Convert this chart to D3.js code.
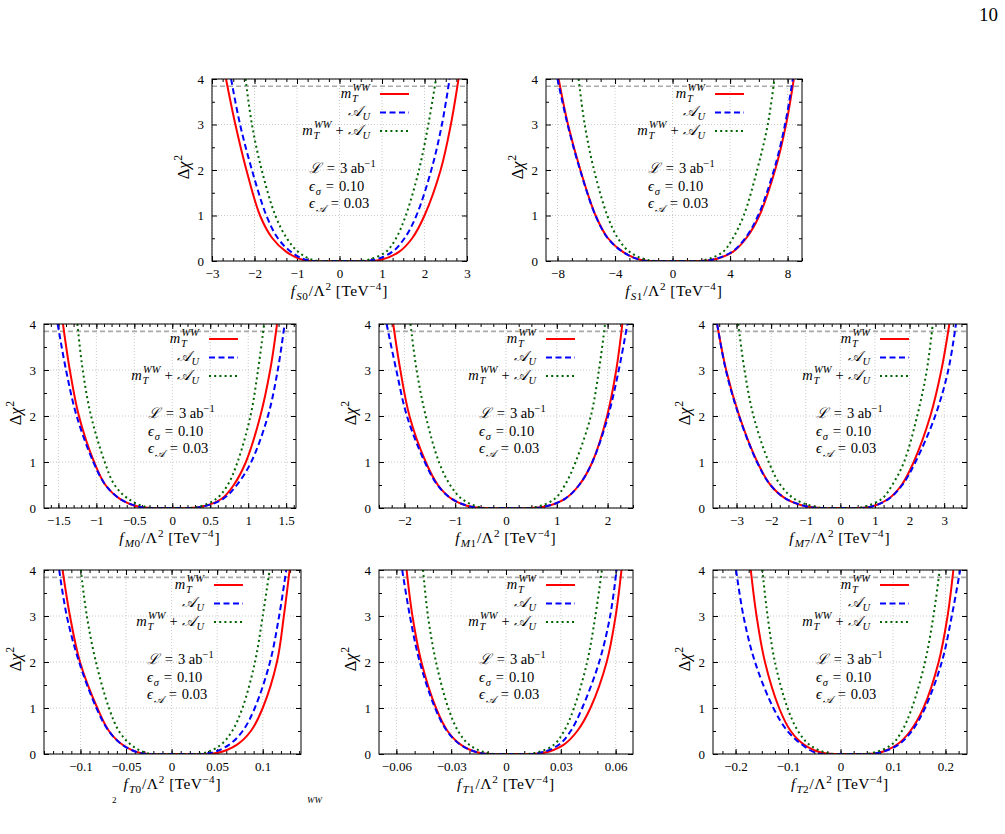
<!DOCTYPE html>
<html>
<head>
<meta charset="utf-8">
<script src="https://cdn.jsdelivr.net/npm/d3@7"></script>
<style>
body { margin: 0; background: #fff; }
svg text { font-family: "Liberation Serif", "DejaVu Serif", serif; fill: #000; white-space: pre; }
</style>
</head>
<body>
<script>

// ---- data: delta chi^2 curves, [coupling, dchi2] ----

var S0_mT = [[-2.67,4],[-2.45,3],[-2.19,2],[-1.87,1],[-1.58,0.5],[-1.25,0.2],[-0.85,0.02],[0.05,0],[0.95,0.02],[1.40,0.2],[1.71,0.5],[2.0,1],[2.38,2],[2.62,3],[2.80,4]];
var S0_AU = [[-2.55,4],[-2.34,3],[-2.06,2],[-1.72,1],[-1.45,0.5],[-1.14,0.2],[-0.77,0.02],[0.01,0],[0.79,0.02],[1.24,0.2],[1.53,0.5],[1.81,1],[2.16,2],[2.41,3],[2.59,4]];
var S0_comb = [[-2.21,4],[-2.06,3],[-1.83,2],[-1.51,1],[-1.24,0.5],[-0.97,0.2],[-0.61,0.02],[0.02,0],[0.64,0.02],[1.09,0.2],[1.33,0.5],[1.56,1],[1.87,2],[2.09,3],[2.27,4]];

var S1_mT = [[-7.92,4],[-7.27,3],[-6.41,2],[-5.35,1],[-4.49,0.5],[-3.45,0.2],[-2.18,0.02],[0.25,0],[2.69,0.02],[4.19,0.2],[5.12,0.5],[6.04,1],[7.13,2],[7.89,3],[8.43,4]];
var S1_AU = [[-8.0,4],[-7.3,3],[-6.43,2],[-5.36,1],[-4.5,0.5],[-3.46,0.2],[-2.2,0.02],[0.2,0],[2.62,0.02],[4.12,0.2],[5.05,0.5],[5.95,1],[7.05,2],[7.82,3],[8.36,4]];
var S1_comb = [[-6.53,4],[-6.11,3],[-5.46,2],[-4.54,1],[-3.80,0.5],[-2.99,0.2],[-1.71,0.02],[0.25,0],[2.22,0.02],[3.50,0.2],[4.19,0.5],[4.95,1],[5.88,2],[6.62,3],[7.08,4]];

var M0_mT = [[-1.44,4],[-1.35,3],[-1.23,2],[-1.03,1],[-0.88,0.5],[-0.69,0.2],[-0.42,0.02],[-0.02,0],[0.37,0.02],[0.65,0.2],[0.81,0.5],[0.97,1],[1.16,2],[1.29,3],[1.38,4]];
var M0_AU = [[-1.51,4],[-1.40,3],[-1.26,2],[-1.04,1],[-0.88,0.5],[-0.69,0.2],[-0.42,0.02],[-0.02,0],[0.37,0.02],[0.67,0.2],[0.85,0.5],[1.04,1],[1.26,2],[1.39,3],[1.48,4]];
var M0_comb = [[-1.25,4],[-1.18,3],[-1.07,2],[-0.89,1],[-0.76,0.5],[-0.58,0.2],[-0.34,0.02],[0,0],[0.33,0.02],[0.58,0.2],[0.73,0.5],[0.86,1],[1.03,2],[1.13,3],[1.21,4]];

var M1_mT = [[-2.22,4],[-2.08,3],[-1.90,2],[-1.58,1],[-1.34,0.5],[-1.07,0.2],[-0.65,0.02],[0.03,0],[0.72,0.02],[1.16,0.2],[1.44,0.5],[1.70,1],[1.99,2],[2.17,3],[2.29,4]];
var M1_AU = [[-2.35,4],[-2.16,3],[-1.95,2],[-1.60,1],[-1.35,0.5],[-1.07,0.2],[-0.65,0.02],[0.03,0],[0.72,0.02],[1.16,0.2],[1.44,0.5],[1.70,1],[2.01,2],[2.22,3],[2.39,4]];
var M1_comb = [[-1.88,4],[-1.76,3],[-1.58,2],[-1.32,1],[-1.10,0.5],[-0.87,0.2],[-0.52,0.02],[0.03,0],[0.59,0.02],[0.96,0.2],[1.16,0.5],[1.37,1],[1.67,2],[1.83,3],[1.95,4]];

var M7_mT = [[-3.56,4],[-3.30,3],[-2.92,2],[-2.40,1],[-2.02,0.5],[-1.57,0.2],[-0.88,0.02],[0,0],[0.84,0.02],[1.39,0.2],[1.77,0.5],[2.12,1],[2.60,2],[2.92,3],[3.15,4]];
var M7_AU = [[-3.56,4],[-3.31,3],[-2.93,2],[-2.41,1],[-2.02,0.5],[-1.57,0.2],[-0.88,0.02],[0,0],[0.84,0.02],[1.40,0.2],[1.79,0.5],[2.17,1],[2.74,2],[3.12,3],[3.34,4]];
var M7_comb = [[-2.95,4],[-2.77,3],[-2.51,2],[-2.07,1],[-1.73,0.5],[-1.33,0.2],[-0.69,0.02],[0,0],[0.65,0.02],[1.20,0.2],[1.50,0.5],[1.84,1],[2.22,2],[2.50,3],[2.67,4]];

var T0_mT = [[-0.1196,4],[-0.1115,3],[-0.1005,2],[-0.0815,1],[-0.0687,0.5],[-0.0538,0.2],[-0.034,0.02],[0.008,0],[0.049,0.02],[0.0715,0.2],[0.0870,0.5],[0.100,1],[0.1156,2],[0.1232,3],[0.1295,4]];
var T0_AU = [[-0.1233,4],[-0.115,3],[-0.1015,2],[-0.0825,1],[-0.069,0.5],[-0.054,0.2],[-0.034,0.02],[0.004,0],[0.042,0.02],[0.063,0.2],[0.0780,0.5],[0.0913,1],[0.108,2],[0.118,3],[0.1258,4]];
var T0_comb = [[-0.0996,4],[-0.093,3],[-0.083,2],[-0.0687,1],[-0.0578,0.5],[-0.0445,0.2],[-0.027,0.02],[0.004,0],[0.035,0.02],[0.054,0.2],[0.0665,0.5],[0.0778,1],[0.0915,2],[0.100,3],[0.1076,4]];

var T1_mT = [[-0.0544,4],[-0.0512,3],[-0.0463,2],[-0.0383,1],[-0.032,0.5],[-0.0246,0.2],[-0.014,0.02],[0.003,0],[0.020,0.02],[0.0315,0.2],[0.039,0.5],[0.0462,1],[0.0551,2],[0.060,3],[0.0632,4]];
var T1_AU = [[-0.0568,4],[-0.0526,3],[-0.0472,2],[-0.0388,1],[-0.0323,0.5],[-0.0249,0.2],[-0.014,0.02],[0.002,0],[0.018,0.02],[0.0289,0.2],[0.0354,0.5],[0.0417,1],[0.051,2],[0.057,3],[0.0605,4]];
var T1_comb = [[-0.0454,4],[-0.0427,3],[-0.0383,2],[-0.0316,1],[-0.0262,0.5],[-0.0201,0.2],[-0.010,0.02],[0.003,0],[0.0156,0.02],[0.0262,0.2],[0.0318,0.5],[0.0372,1],[0.0444,2],[0.0489,3],[0.0525,4]];

var T2_mT = [[-0.171,4],[-0.160,3],[-0.144,2],[-0.117,1],[-0.095,0.5],[-0.069,0.2],[-0.032,0.02],[0.019,0],[0.070,0.02],[0.107,0.2],[0.133,0.5],[0.158,1],[0.187,2],[0.204,3],[0.215,4]];
var T2_AU = [[-0.199,4],[-0.185,3],[-0.163,2],[-0.128,1],[-0.101,0.5],[-0.073,0.2],[-0.045,0.02],[0.012,0],[0.070,0.02],[0.110,0.2],[0.136,0.5],[0.161,1],[0.193,2],[0.212,3],[0.228,4]];
var T2_comb = [[-0.149,4],[-0.139,3],[-0.125,2],[-0.101,1],[-0.081,0.5],[-0.059,0.2],[-0.025,0.02],[0.018,0],[0.060,0.02],[0.097,0.2],[0.117,0.5],[0.136,1],[0.161,2],[0.177,3],[0.189,4]];

// axis ranges and tick labels
var S0_ticks = [-3, -2, -1, 0, 1, 2, 3];
var S1_ticks = [-8, -4, 0, 4, 8];
var M0_ticks = [-1.5, -1, -0.5, 0, 0.5, 1, 1.5];
var M1_ticks = [-2, -1, 0, 1, 2];
var M7_ticks = [-3, -2, -1, 0, 1, 2, 3];
var T0_ticks = [-0.1, -0.05, 0, 0.05, 0.1];
var T1_ticks = [-0.06, -0.03, 0, 0.03, 0.06];
var T2_ticks = [-0.2, -0.1, 0, 0.1, 0.2];
var yTicks = [0, 1, 2, 3, 4];
var chi2Line = 3.84;

// ---- layout ----

var panels = [
    { op: 'S0', left: 212, top: 79, w: 255, h: 182, dom: [-3, 3], ticks: S0_ticks, minor: 4, series: [S0_mT, S0_AU, S0_comb], note: 97 },
    { op: 'S1', left: 546, top: 79, w: 256, h: 182, dom: [-8.8, 9], ticks: S1_ticks, minor: 4, series: [S1_mT, S1_AU, S1_comb], note: 102 },
    { op: 'M0', left: 44, top: 324, w: 252, h: 184, dom: [-1.69, 1.63], ticks: M0_ticks, minor: 5, series: [M0_mT, M0_AU, M0_comb], note: 104 },
    { op: 'M1', left: 379, top: 324, w: 254, h: 184, dom: [-2.5, 2.5], ticks: M1_ticks, minor: 4, series: [M1_mT, M1_AU, M1_comb], note: 100 },
    { op: 'M7', left: 713, top: 324, w: 254, h: 184, dom: [-3.68, 3.66], ticks: M7_ticks, minor: 4, series: [M7_mT, M7_AU, M7_comb], note: 103 },
    { op: 'T0', left: 44, top: 570, w: 257, h: 184, dom: [-0.14, 0.142], ticks: T0_ticks, minor: 5, series: [T0_mT, T0_AU, T0_comb], note: 103 },
    { op: 'T1', left: 379, top: 570, w: 254, h: 184, dom: [-0.0695, 0.0695], ticks: T1_ticks, minor: 3, series: [T1_mT, T1_AU, T1_comb], note: 100 },
    { op: 'T2', left: 713, top: 570, w: 254, h: 184, dom: [-0.243, 0.241], ticks: T2_ticks, minor: 4, series: [T2_mT, T2_AU, T2_comb], note: 103 }
];

var styles = [
    { color: '#ff0000', dash: null },
    { color: '#0000ff', dash: '6,3.5' },
    { color: '#006400', dash: '2,3.2' }
];

var legendLabels = [
    [{ t: 'm', i: 1 }, { stack: ['WW', 'T'] }],
    [{ t: '𝒜', i: 1 }, { t: 'U', i: 1, sub: 1 }],
    [{ t: 'm', i: 1 }, { stack: ['WW', 'T'] }, { t: '+', pad: 4 }, { t: '𝒜', i: 1 }, { t: 'U', i: 1, sub: 1 }]
];

var notes = [
    [{ t: 'ℒ', i: 1 }, { t: '=', pad: 5 }, { t: '3 ab' }, { t: '−1', sup: 1 }],
    [{ t: 'ϵ', i: 1 }, { t: 'σ', i: 1, sub: 1 }, { t: '=', pad: 5 }, { t: '0.10' }],
    [{ t: 'ϵ', i: 1 }, { t: '𝒜', i: 1, sub: 1 }, { t: '=', pad: 5 }, { t: '0.03' }]
];

var svg = d3.select('body').append('svg')
    .attr('width', 1005)
    .attr('height', 834);

// small piece of math typesetting: base, sub, sup and stacked sup/sub
function mathText(parent, x, y, pieces, anchor, size, rotate, spacing) {
    size = size || 12;
    spacing = spacing || 0;
    var g = parent.append('g');
    var cx = 0;
    var small = size * 0.72;
    pieces.forEach(function(p) {
        if (p.stack) {
            var a = g.append('text').attr('x', cx + 0.5).attr('y', -size * 0.42)
                .style('font-size', small + 'px').style('font-style', 'italic').text(p.stack[0]);
            var b = g.append('text').attr('x', cx).attr('y', size * 0.3)
                .style('font-size', small + 'px').style('font-style', 'italic').text(p.stack[1]);
            cx += Math.max(a.node().getComputedTextLength() + 0.5, b.node().getComputedTextLength());
            return;
        }
        var dy = p.sup ? -size * 0.42 : p.sub ? size * 0.28 : 0;
        var fs = (p.sup || p.sub) ? small : size;
        cx += p.pad || 0;
        var t = g.append('text').attr('x', cx).attr('y', dy)
            .style('font-size', fs + 'px')
            .style('font-style', p.i ? 'italic' : 'normal')
            .style('letter-spacing', spacing + 'px')
            .text(p.t);
        cx += t.node().getComputedTextLength() + (p.pad || 0) + (p.i && !p.sub && !p.sup ? 0.8 : 0);
    });
    var shift = anchor === 'end' ? -cx : anchor === 'middle' ? -cx / 2 : 0;
    if (rotate) {
        g.attr('transform', 'translate(' + x + ',' + y + ') rotate(-90) translate(' + shift + ',0)');
    } else {
        g.attr('transform', 'translate(' + (x + shift) + ',' + y + ')');
    }
    return g;
}

function minorTicks(dom, major, n) {
    var step = (major[1] - major[0]) / n;
    var out = [];
    var start = major[0] - Math.ceil((major[0] - dom[0]) / step - 1e-9) * step;
    for (var v = start; v <= dom[1] + 1e-9; v += step) {
        if (v >= dom[0] - 1e-9) out.push(v);
    }
    return out;
}

function drawPanel(p, k) {
    var g = svg.append('g').attr('transform', 'translate(' + p.left + ',' + p.top + ')');

    var x = d3.scaleLinear().domain(p.dom).range([0, p.w]);
    var y = d3.scaleLinear().domain([0, 4]).range([p.h, 0]);

    g.append('clipPath').attr('id', 'clip' + k)
        .append('rect').attr('width', p.w).attr('height', p.h);

    // dotted grid
    var grid = g.append('g').attr('stroke', '#bdbdbd').attr('stroke-width', 0.8).attr('stroke-dasharray', '1,2');
    grid.selectAll('.gx').data(p.ticks).enter().append('line')
        .attr('x1', function(d) { return x(d); }).attr('x2', function(d) { return x(d); })
        .attr('y1', 0).attr('y2', p.h);
    grid.selectAll('.gy').data(yTicks).enter().append('line')
        .attr('x1', 0).attr('x2', p.w)
        .attr('y1', function(d) { return y(d); }).attr('y2', function(d) { return y(d); });

    // 95% CL line
    g.append('line')
        .attr('x1', 0).attr('x2', p.w)
        .attr('y1', y(chi2Line)).attr('y2', y(chi2Line))
        .attr('stroke', '#aaaaaa').attr('stroke-width', 1.6).attr('stroke-dasharray', '5,3');

    // ticks, gnuplot style: inward and mirrored
    var fmt = d3.format('~g');
    var minorX = minorTicks(p.dom, p.ticks, p.minor);
    var minorY = [0.5, 1.5, 2.5, 3.5];

    g.append('g').attr('class', 'ax').attr('transform', 'translate(0,' + p.h + ')')
        .call(d3.axisBottom(x).tickValues(p.ticks).tickFormat(fmt).tickSize(-5).tickPadding(8));
    g.append('g').attr('class', 'ax').attr('transform', 'translate(0,' + p.h + ')')
        .call(d3.axisBottom(x).tickValues(minorX).tickFormat('').tickSize(-3));
    g.append('g').attr('class', 'ax')
        .call(d3.axisTop(x).tickValues(p.ticks).tickFormat('').tickSize(-5));
    g.append('g').attr('class', 'ax')
        .call(d3.axisTop(x).tickValues(minorX).tickFormat('').tickSize(-3));
    g.append('g').attr('class', 'ax')
        .call(d3.axisLeft(y).tickValues(yTicks).tickFormat(fmt).tickSize(-5).tickPadding(8));
    g.append('g').attr('class', 'ax')
        .call(d3.axisLeft(y).tickValues(minorY).tickFormat('').tickSize(-3));
    g.append('g').attr('class', 'ax').attr('transform', 'translate(' + p.w + ',0)')
        .call(d3.axisRight(y).tickValues(yTicks).tickFormat('').tickSize(-5));
    g.append('g').attr('class', 'ax').attr('transform', 'translate(' + p.w + ',0)')
        .call(d3.axisRight(y).tickValues(minorY).tickFormat('').tickSize(-3));

    g.selectAll('.ax .domain').remove();
    g.selectAll('.ax line').attr('stroke', '#000').attr('stroke-width', 1);
    g.selectAll('.ax text').style('font-size', '13px')
        .style('font-family', '"Liberation Serif", serif');

    // curves
    var line = d3.line()
        .x(function(d) { return x(d[0]); })
        .y(function(d) { return y(d[1]); })
        .curve(d3.curveCatmullRom.alpha(0.5));

    var curves = g.append('g').attr('clip-path', 'url(#clip' + k + ')');
    p.series.forEach(function(s, i) {
        curves.append('path')
            .datum(s)
            .attr('d', line)
            .attr('fill', 'none')
            .attr('stroke', styles[i].color)
            .attr('stroke-width', 2)
            .attr('stroke-dasharray', styles[i].dash);
    });

    // border
    g.append('rect').attr('width', p.w).attr('height', p.h)
        .attr('fill', 'none').attr('stroke', '#000').attr('stroke-width', 1);

    // legend
    legendLabels.forEach(function(lab, i) {
        var ly = 15 + i * 18.5;
        g.append('line')
            .attr('x1', p.w - 87).attr('x2', p.w - 58)
            .attr('y1', ly).attr('y2', ly)
            .attr('stroke', styles[i].color)
            .attr('stroke-width', 2)
            .attr('stroke-dasharray', styles[i].dash);
        mathText(g, p.w - 97, ly + 3.5, lab, 'end', 14.5);
    });

    // luminosity and systematics
    notes.forEach(function(n, i) {
        mathText(g, p.note, 94 + i * 17.5, n, 'start', 14.5);
    });

    // axis titles
    var opName = p.op;
    mathText(g, p.w / 2, p.h + 35, [
        { t: 'f', i: 1 },
        { t: opName[0], i: 1, sub: 1 },
        { t: opName.slice(1), sub: 1 },
        { t: '/Λ', pad: 0.5 },
        { t: '2', sup: 1 },
        { t: ' [TeV' },
        { t: '−4', sup: 1 },
        { t: ']', pad: 0.5 }
    ], 'middle', 15.5, false, 0.4);

    mathText(g, -23, p.h / 2 - 3, [
        { t: 'Δ' },
        { t: 'χ', i: 1 },
        { t: '2', sup: 1 }
    ], 'middle', 16.5, true);
}

panels.forEach(drawPanel);

// page number
svg.append('text').attr('x', 998).attr('y', 21)
    .attr('text-anchor', 'end')
    .style('font-size', '19px')
    .text('10');

// what is left of the caption line below the figure
svg.append('text').attr('x', 112).attr('y', 803).style('font-size', '9px').text('2');
svg.append('text').attr('x', 307).attr('y', 803).style('font-size', '9px').style('font-style', 'italic').text('WW');

</script>
</body>
</html>
